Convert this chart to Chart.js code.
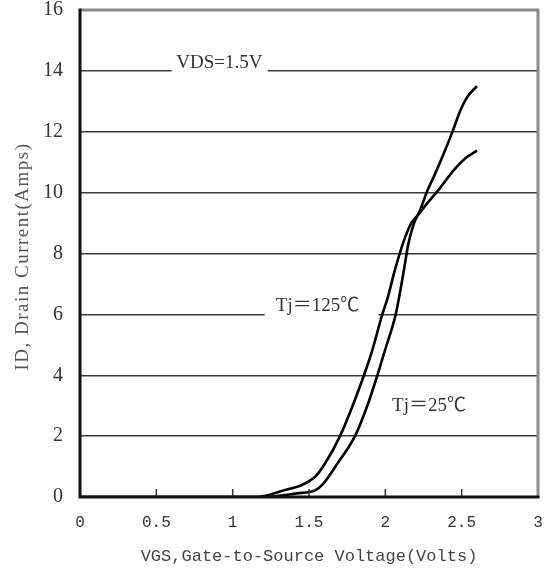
<!DOCTYPE html>
<html>
<head>
<meta charset="utf-8">
<script src="https://cdn.jsdelivr.net/npm/chart.js@4.4.1/dist/chart.umd.min.js"></script>
<style>
  html, body { margin: 0; padding: 0; background: #fff; }
  #wrap { width: 549px; height: 575px; position: relative; }
</style>
</head>
<body>
<div id="wrap"><canvas id="c" width="549" height="575"></canvas></div>
<script>
// ---- data ----
const voltage125 = [0, 1.16, 1.31, 1.539, 1.605, 1.703, 1.786, 1.86, 1.917, 1.98, 2.013, 2.065, 2.12, 2.17, 2.22, 2.27, 2.35, 2.45, 2.53, 2.60];
const current125 = [0, 0, 0.18, 0.66, 1.1, 2.0, 3.0, 4.0, 4.86, 6.0, 6.5, 7.5, 8.4, 9.0, 9.3, 9.62, 10.1, 10.75, 11.15, 11.38];
const voltage25 = [0, 1.2, 1.42, 1.54, 1.594, 1.686, 1.801, 1.882, 1.948, 2.0, 2.068, 2.12, 2.15, 2.185, 2.23, 2.27, 2.32, 2.38, 2.445, 2.49, 2.535, 2.60];
const current25 = [0, 0, 0.12, 0.22, 0.44, 1.1, 2.0, 3.0, 4.0, 4.86, 6.0, 7.4, 8.3, 8.95, 9.45, 10.0, 10.55, 11.25, 12.07, 12.68, 13.13, 13.5];
const xTickLabels = ['0', '0.5', '1', '1.5', '2', '2.5', '3'];
const yTickLabels = ['0', '2', '4', '6', '8', '10', '12', '14', '16'];
const seriesNames = ['Tj=125℃', 'Tj=25℃'];
const labelTexts = ['VDS=1.5V', 'Tj＝125℃', 'Tj＝25℃'];
const yTitleText = 'ID, Drain Current(Amps)';

function toPoints(xs, ys) { return xs.map((x, i) => ({ x: x, y: ys[i] })); }

// annotation placement (data coordinates), kept separate from the data
const annotations = [
  { text: labelTexts[0], x: 0.913, y: 14.27, gap: [0.60, 1.23], gapY: 14 },
  { text: labelTexts[1], x: 1.556, y: 6.27, gap: [1.21, 1.955], gapY: 6 },
  { text: labelTexts[2], x: 2.286, y: 2.99, gap: null }
];

const decorPlugin = {
  id: 'decor',
  beforeDatasetsDraw(chart) {
    const ctx = chart.ctx, xs = chart.scales.x, ys = chart.scales.y;
    ctx.save();
    ctx.fillStyle = '#fff';
    annotations.forEach(a => {
      if (!a.gap) return;
      const x1 = xs.getPixelForValue(a.gap[0]), x2 = xs.getPixelForValue(a.gap[1]);
      const y = ys.getPixelForValue(a.gapY);
      ctx.fillRect(x1, y - 3, x2 - x1, 6);
    });
    ctx.restore();
  },
  afterDatasetsDraw(chart) {
    const ctx = chart.ctx, xs = chart.scales.x, ys = chart.scales.y;
    const a = chart.chartArea;
    ctx.save();
    // annotation texts
    ctx.font = '19px "Liberation Serif", "Noto Sans CJK SC", serif';
    ctx.fillStyle = '#333';
    ctx.textAlign = 'center';
    ctx.textBaseline = 'middle';
    annotations.forEach(an => {
      ctx.fillText(an.text, xs.getPixelForValue(an.x), ys.getPixelForValue(an.y));
    });
    // y axis title (rotated, letter-spaced)
    ctx.save();
    ctx.translate(23, (a.top + a.bottom) / 2 + 3);
    ctx.rotate(-Math.PI / 2);
    ctx.font = '19px "Liberation Serif", serif';
    ctx.fillStyle = '#555';
    try { ctx.letterSpacing = '1.5px'; } catch (e) {}
    ctx.textAlign = 'center';
    ctx.textBaseline = 'middle';
    ctx.fillText(yTitleText, 0, 0);
    ctx.restore();
    // inner tick marks on x axis
    ctx.strokeStyle = '#333';
    ctx.lineWidth = 1.5;
    xs.ticks.forEach(t => {
      if (t.value <= xs.min || t.value >= xs.max) return;
      const px = xs.getPixelForValue(t.value);
      ctx.beginPath();
      ctx.moveTo(px, a.bottom);
      ctx.lineTo(px, a.bottom - 8);
      ctx.stroke();
    });
    // top & right frame (gray)
    ctx.strokeStyle = '#8a8a8a';
    ctx.lineWidth = 3;
    ctx.beginPath();
    ctx.moveTo(a.left, a.top);
    ctx.lineTo(a.right, a.top);
    ctx.lineTo(a.right, a.bottom);
    ctx.stroke();
    // left & bottom axes (black)
    ctx.strokeStyle = '#111';
    ctx.lineWidth = 3;
    ctx.beginPath();
    ctx.moveTo(a.left, a.top - 1.5);
    ctx.lineTo(a.left, a.bottom);
    ctx.lineTo(a.right + 1.5, a.bottom);
    ctx.stroke();
    ctx.restore();
  }
};

new Chart(document.getElementById('c'), {
  type: 'scatter',
  data: {
    datasets: [
      { label: seriesNames[0], data: toPoints(voltage125, current125) },
      { label: seriesNames[1], data: toPoints(voltage25, current25) }
    ]
  },
  options: {
    responsive: false,
    animation: false,
    devicePixelRatio: 1,
    layout: { padding: { top: 10, right: 11, left: 0, bottom: 0 } },
    elements: {
      line: { borderColor: '#000', borderWidth: 2.6, cubicInterpolationMode: 'monotone', fill: false },
      point: { radius: 0, hoverRadius: 0 }
    },
    datasets: { scatter: { showLine: true } },
    plugins: { legend: { display: false }, tooltip: { enabled: false } },
    scales: {
      x: {
        type: 'linear', min: 0, max: 3,
        afterFit(s) { s.height = 78; s.paddingLeft = 0; s.paddingRight = 0; },
        grid: { display: false, drawTicks: false },
        border: { display: false },
        ticks: {
          stepSize: 0.5, padding: 16, color: '#333', maxRotation: 0, autoSkip: false,
          font: { family: '"Liberation Mono", monospace', size: 16 },
          callback: (v, i) => xTickLabels[i]
        },
        title: {
          display: true, text: 'VGS,Gate-to-Source Voltage(Volts)', color: '#444',
          font: { family: '"Liberation Mono", monospace', size: 17 },
          padding: { top: 0, bottom: 8 }
        }
      },
      y: {
        type: 'linear', min: 0, max: 16,
        afterFit(s) { s.width = 80; s.paddingTop = 0; s.paddingBottom = 0; },
        grid: { color: '#3a3a3a', lineWidth: 1.5, drawTicks: false },
        border: { display: false },
        ticks: {
          stepSize: 2, padding: 17, color: '#333',
          font: { family: '"Liberation Serif", serif', size: 20 },
          callback: (v, i) => yTickLabels[i]
        },
        title: { display: false }
      }
    }
  },
  plugins: [decorPlugin]
});
</script>
</body>
</html>
